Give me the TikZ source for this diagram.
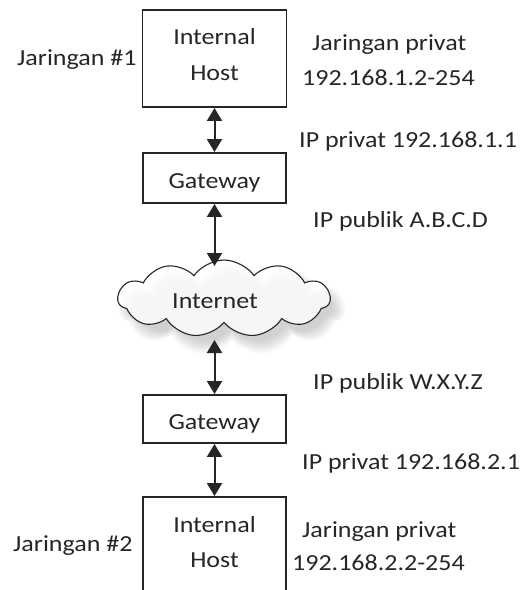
\documentclass[tikz,border=0pt]{standalone}
\usepackage{fontspec}
\setmainfont{Carlito}[FakeStretch=1.13]
\usetikzlibrary{shapes.symbols,arrows.meta,calc}

\begin{document}
\begin{tikzpicture}[x=1pt,y=-1pt,
  box/.style={draw=black!85, line width=1.9pt, inner sep=0pt, text=black!85},
  txt/.style={inner sep=0pt, anchor=base west, text=black!85},
  ctr/.style={inner sep=0pt, anchor=base, text=black!85},
  puffs/.style={cloud, cloud puffs=11, cloud puff arc=110, aspect=2.8, inner sep=0pt},
  link/.style={{Triangle[length=13pt,width=15pt]}-{Triangle[length=13pt,width=15pt]},
               line width=2pt, draw=black!85},
  font=\fontsize{23}{27}\selectfont]
\useasboundingbox (0,0) rectangle (530,590);
\clip (0,0) rectangle (530,590);

% upper network
\node[box, minimum width=144pt, minimum height=97pt] (host1) at (214.5,58.5) {};
\node[ctr] (host1a) at (214.5,44) {Internal};
\node[ctr] (host1b) at (214.5,80) {Host};
\node[txt] (net1) at (17,65) {Jaringan \#1};
\node[txt] (priv1) at (312,50) {Jaringan privat};
\node[txt] (range1) at (302,85) {192.168.1.2-254};
\node[txt] (ipin1) at (299,147) {IP privat 192.168.1.1};

\node[box, minimum width=143pt, minimum height=50pt] (gw1) at (214.5,178) {};
\node[ctr] (gw1t) at (214.5,188) {Gateway};
\node[txt] (ipout1) at (313,227) {IP publik A.B.C.D};

% internet cloud with its soft shadow
\foreach \s in {0,...,9}
  \node[puffs, fill=black, fill opacity=0.018, draw=none,
        minimum width={(200+3*\s)*1pt}, minimum height={(66+3*\s)*1pt}]
        (shade\s) at (232,309) {};
\node[puffs, draw=black!85, line width=1.1pt, fill=white, fill opacity=0.8,
      minimum width=212pt, minimum height=77pt] (cloud) at (224,298.5) {};
\node[ctr] (cloudt) at (215,308) {Internet};
\coordinate (cloudtop) at (214.5,266);
\coordinate (cloudbot) at (214.5,340);

% lower network
\node[txt] (ipout2) at (313,389) {IP publik W.X.Y.Z};
\node[box, minimum width=143pt, minimum height=48pt] (gw2) at (214.5,419) {};
\node[ctr] (gw2t) at (214.5,429) {Gateway};
\node[txt] (ipin2) at (302,469) {IP privat 192.168.2.1};

\node[box, minimum width=143pt, minimum height=97pt] (host2) at (214.5,545.5) {};
\node[ctr] (host2a) at (214.5,532) {Internal};
\node[ctr] (host2b) at (214.5,567) {Host};
\node[txt] (net2) at (13,551) {Jaringan \#2};
\node[txt] (priv2) at (302,537) {Jaringan privat};
\node[txt] (range2) at (292,570) {192.168.2.2-254};

% links
\draw[link] (host1.south) -- (gw1.north);
\draw[link] (gw1.south) -- (cloudtop);
\draw[link] (cloudbot) -- (gw2.north);
\draw[link] (gw2.south) -- (host2.north);
\end{tikzpicture}
\end{document}
